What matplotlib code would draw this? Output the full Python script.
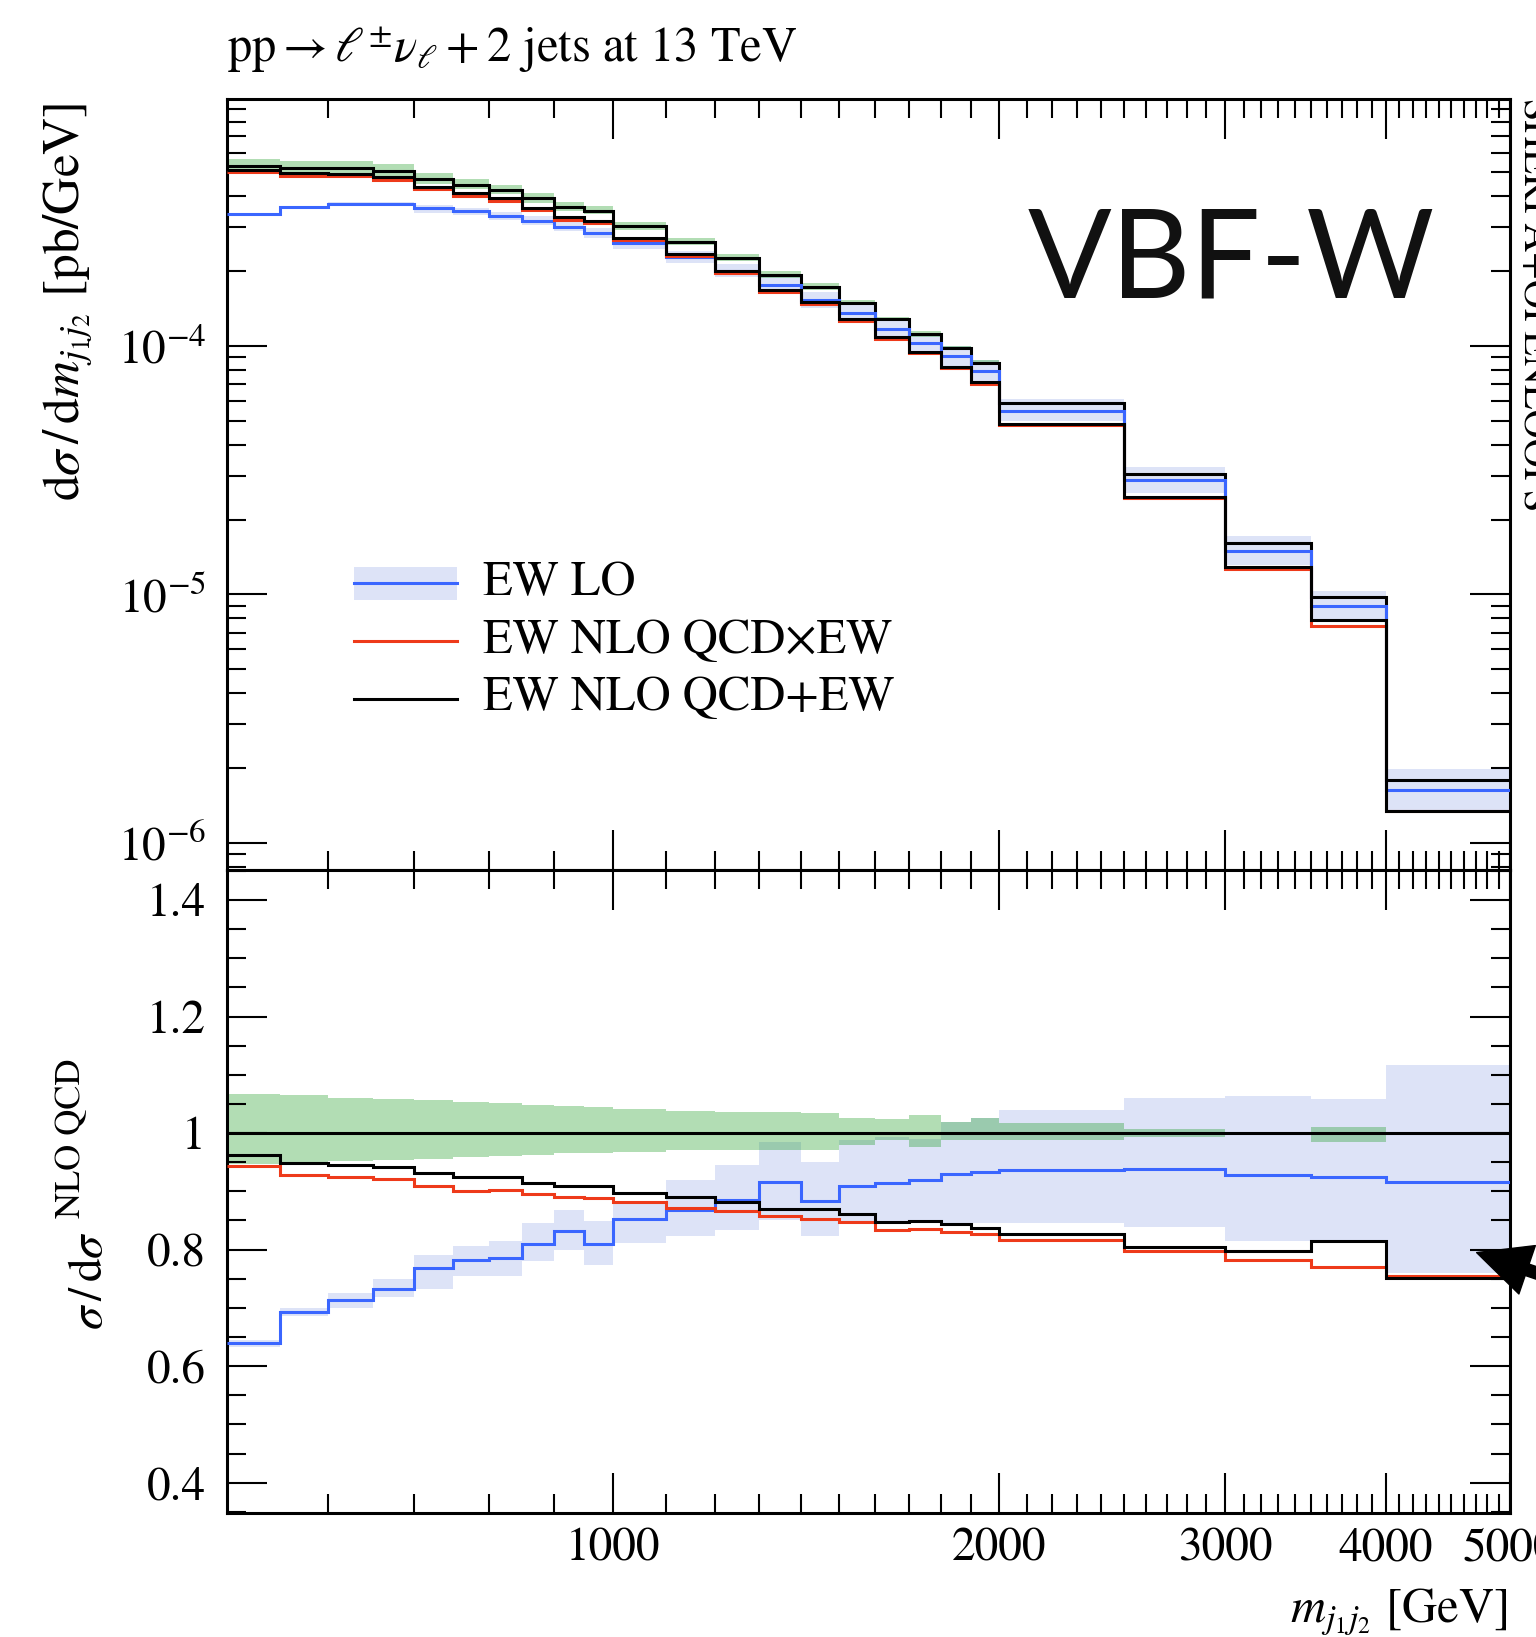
import numpy as np
import matplotlib
matplotlib.use("Agg")
import matplotlib.pyplot as plt
from matplotlib.ticker import FixedLocator, FuncFormatter, LogLocator, NullFormatter, MultipleLocator
from matplotlib.patches import Rectangle, FancyArrowPatch
from matplotlib.lines import Line2D

# ---------------- data ----------------
bin_edges = [500, 550, 600, 650, 700, 750, 800, 850, 900, 950, 1000, 1100, 1200, 1300,
             1400, 1500, 1600, 1700, 1800, 1900, 2000, 2500, 3000, 3500, 4000, 5000]

# NLO QCD reference distribution dsigma/dm [pb/GeV]
nlo_qcd = [5.32e-4, 5.22e-4, 5.22e-4, 5.08e-4, 4.69e-4, 4.45e-4, 4.25e-4, 3.93e-4,
           3.62e-4, 3.51e-4, 3.04e-4, 2.63e-4, 2.27e-4, 1.93e-4, 1.73e-4, 1.49e-4,
           1.28e-4, 1.117e-4, 9.79e-5, 8.52e-5, 5.87e-5, 3.06e-5, 1.61e-5, 9.72e-6, 1.78e-6]

# NLO QCD scale band (ratio to NLO QCD)
nlo_band_lo = [0.947, 0.949, 0.952, 0.954, 0.956, 0.959, 0.960, 0.962, 0.965, 0.966, 0.968, 0.971,
               0.971, 0.971, 0.971, 0.979, 0.988, 0.976, 0.988, 0.988, 0.988, 0.993, 0.999, 0.985, 0.999]
nlo_band_hi = [1.067, 1.065, 1.061, 1.059, 1.056, 1.053, 1.051, 1.049, 1.046, 1.045, 1.042, 1.038,
               1.036, 1.036, 1.034, 1.026, 1.025, 1.031, 1.019, 1.026, 1.017, 1.0075, 1.001, 1.011, 1.001]

# ratios to NLO QCD
ratio_ew_lo = [0.639, 0.693, 0.713, 0.733, 0.769, 0.783, 0.786, 0.810, 0.832, 0.810, 0.852, 0.868,
               0.886, 0.916, 0.883, 0.910, 0.915, 0.919, 0.929, 0.934, 0.936, 0.939, 0.928, 0.925, 0.916]
lo_band_lo = [0.633, 0.686, 0.700, 0.718, 0.732, 0.754, 0.754, 0.780, 0.800, 0.774, 0.811, 0.823,
              0.834, 0.850, 0.823, 0.846, 0.846, 0.846, 0.846, 0.846, 0.846, 0.838, 0.814, 0.811, 0.760]
lo_band_hi = [0.645, 0.700, 0.725, 0.749, 0.791, 0.806, 0.814, 0.846, 0.868, 0.849, 0.880, 0.919,
              0.945, 0.985, 0.951, 0.988, 0.993, 0.990, 1.019, 1.026, 1.039, 1.060, 1.064, 1.059, 1.117]
ratio_qcd_x_ew = [0.943, 0.928, 0.925, 0.921, 0.910, 0.901, 0.902, 0.895, 0.891, 0.888, 0.881, 0.872,
                  0.867, 0.858, 0.853, 0.847, 0.834, 0.835, 0.831, 0.826, 0.817, 0.797, 0.783, 0.770, 0.754]
ratio_qcd_p_ew = [0.962, 0.948, 0.946, 0.942, 0.931, 0.924, 0.924, 0.914, 0.910, 0.910, 0.898, 0.891,
                  0.882, 0.869, 0.869, 0.861, 0.848, 0.849, 0.844, 0.837, 0.827, 0.805, 0.797, 0.814, 0.751]

x_major = [1000, 2000, 3000, 4000, 5000]
ratio_major = [0.4, 0.6, 0.8, 1.0, 1.2, 1.4]

labels = ["EW LO", "EW NLO QCD\u00d7EW", "EW NLO QCD+EW"]

# ---------------- style ----------------
plt.rcParams["font.family"] = ["STIXGeneral", "Liberation Serif", "DejaVu Serif"]
plt.rcParams["mathtext.fontset"] = "stix"

C_BLUE = "#3a66ff"
C_RED = "#ee3a1a"
C_BLACK = "black"
C_BLUE_BAND = "#dde3f7"
C_GREEN = (0.0, 0.57, 0.03)
FS = 34

edges = np.array(bin_edges, dtype=float)
ref = np.array(nlo_qcd)
r_lo = np.array(ratio_ew_lo)
r_x = np.array(ratio_qcd_x_ew)
r_p = np.array(ratio_qcd_p_ew)

W, H = 1536, 1637
fig = plt.figure(figsize=(W / 100, H / 100), dpi=100)

def fx(px):
    return px / W

def fy(py):
    return 1 - py / H

L, R = 226.7, 1510.0
T1, B1, B2 = 99.3, 870.0, 1512.7
ax1 = fig.add_axes([fx(L), fy(B1), fx(R) - fx(L), fy(T1) - fy(B1)])
ax2 = fig.add_axes([fx(L), fy(B2), fx(R) - fx(L), fy(B1) - fy(B2)], sharex=ax1)

LW = 2.2
# ---- top panel ----
ax1.stairs(ref * np.array(lo_band_hi), edges, baseline=ref * np.array(lo_band_lo), fill=True,
           color=C_BLUE_BAND, lw=0, zorder=1)
ax1.stairs(ref * np.array(nlo_band_hi), edges, baseline=ref * np.array(nlo_band_lo), fill=True,
           color=C_GREEN, alpha=0.3, lw=0, zorder=1.1)
ax1.stairs(ref, edges, baseline=None, color=C_BLACK, lw=LW, zorder=3)
ax1.stairs(ref * r_lo, edges, baseline=None, color=C_BLUE, lw=LW, zorder=3)
ax1.stairs(ref * r_x, edges, baseline=None, color=C_RED, lw=LW, zorder=3)
ax1.stairs(ref * r_p, edges, baseline=None, color=C_BLACK, lw=LW, zorder=3)

# ---- ratio panel ----
ax2.stairs(np.array(lo_band_hi), edges, baseline=np.array(lo_band_lo), fill=True,
           color=C_BLUE_BAND, lw=0, zorder=1)
ax2.stairs(np.array(nlo_band_hi), edges, baseline=np.array(nlo_band_lo), fill=True,
           color=C_GREEN, alpha=0.3, lw=0, zorder=1.1)
ax2.stairs(ref / ref, edges, baseline=None, color=C_BLACK, lw=LW, zorder=3)
ax2.stairs(r_lo, edges, baseline=None, color=C_BLUE, lw=LW, zorder=3)
ax2.stairs(r_x, edges, baseline=None, color=C_RED, lw=LW, zorder=3)
ax2.stairs(r_p, edges, baseline=None, color=C_BLACK, lw=LW, zorder=3)

# ---- axes ----
ax1.set_xscale("log")
ax1.set_xlim(500, 5000)
ax1.set_yscale("log")
ax1.set_ylim(10 ** -6.11, 10 ** -3.0068)
ax2.set_ylim(0.3486, 1.4514)

minor_x = [v for v in range(600, 5000, 100) if v not in x_major]
for ax in (ax1, ax2):
    ax.xaxis.set_major_locator(FixedLocator(x_major))
    ax.xaxis.set_minor_locator(FixedLocator(minor_x))
    ax.xaxis.set_minor_formatter(NullFormatter())
    ax.tick_params(which="both", direction="in", top=True, right=True, width=1.5, labelsize=FS)
    ax.tick_params(which="major", length=28.8)
    ax.tick_params(which="minor", length=13.5)
    ax.tick_params(axis="y", pad=15)
    ax.tick_params(axis="x", pad=11)
    for s in ax.spines.values():
        s.set_linewidth(2.2)

ax1.tick_params(labelbottom=False)
ax1.yaxis.set_major_locator(LogLocator(base=10))
ax1.yaxis.set_minor_locator(LogLocator(base=10, subs=np.arange(2, 10)))
ax1.yaxis.set_minor_formatter(NullFormatter())
ax2.xaxis.set_major_formatter(FuncFormatter(lambda v, p: f"{int(round(v))}"))
ax2.yaxis.set_major_locator(FixedLocator(ratio_major))
ax2.yaxis.set_minor_locator(MultipleLocator(0.05))
ax2.yaxis.set_major_formatter(FuncFormatter(lambda v, p: "1" if abs(v - 1) < 1e-9 else f"{v:.1f}"))

# ---- legend (manual, Rivet style) ----
lx0, lx1 = (354 - L) / (R - L), (457 - L) / (R - L)
tx = (483 - L) / (R - L)

def ay(py):
    return 1 - (py - T1) / (B1 - T1)

ax1.add_patch(Rectangle((lx0, ay(600)), lx1 - lx0, ay(566.7) - ay(600), transform=ax1.transAxes,
                        color=C_BLUE_BAND, lw=0, zorder=4))
for ypx, col, lab in [(583.3, C_BLUE, labels[0]), (641.3, C_RED, labels[1]), (698.7, C_BLACK, labels[2])]:
    ax1.add_line(Line2D([lx0, lx1], [ay(ypx), ay(ypx)], transform=ax1.transAxes, color=col, lw=LW, zorder=5))
    ax1.text(tx, ay(ypx), lab, transform=ax1.transAxes, fontsize=35, va="center", ha="left")

# ---- texts ----
fig.text(fx(L), fy(62), r"$\mathrm{pp} \rightarrow \ell^{\pm}\nu_{\ell} + 2$ jets at 13 TeV",
         fontsize=35, ha="left", va="baseline")
fig.text(fx(68), fy(103), r"$\mathrm{d}\sigma\,/\,\mathrm{d}m_{j_1 j_2}$ [pb/GeV]", rotation=90,
         fontsize=37, ha="center", va="top")
# ratio-panel y label: main part and (large) superscript
fig.text(fx(91), fy(1330), r"$\sigma\,/\,\mathrm{d}\sigma$", rotation=90,
         fontsize=34, ha="center", va="bottom")
fig.text(fx(72), fy(1218), "NLO QCD", rotation=90, fontsize=26, ha="center", va="bottom")
fig.text(fx(1507), fy(1612), r"$m_{j_1 j_2}$ [GeV]", fontsize=35, ha="right", va="center")
fig.text(fx(1513), fy(99), "SHERPA+OPENLOOPS", rotation=-90, fontsize=29, ha="left", va="top")
fig.text(fx(1028), fy(297.6), "VBF-W", family="Lato", fontsize=89, ha="left", va="baseline",
         color="#111111")

fig.patches.append(FancyArrowPatch(
    (1610, H - 1298), (1474, H - 1251.7), transform=None,
    arrowstyle="simple,head_width=1.15,head_length=1.2,tail_width=0.27",
    mutation_scale=32, color="black", figure=fig))

fig.savefig("out.png", dpi=100)
